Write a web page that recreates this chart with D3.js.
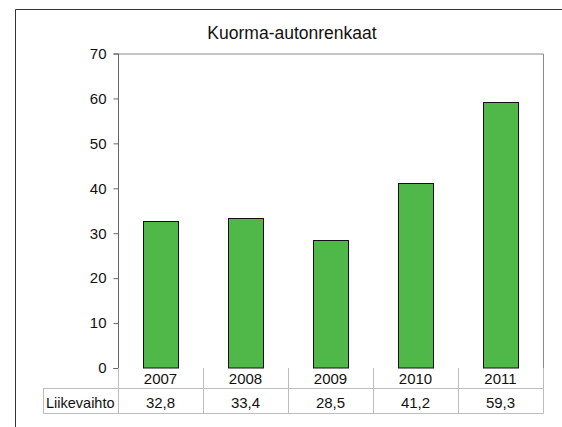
<!DOCTYPE html>
<html>
<head>
<meta charset="utf-8">
<style>
  body { margin: 0; background: #fff; }
  svg text { font-family: "Liberation Sans", Arial, sans-serif; fill: #111; }
</style>
</head>
<body>
<svg width="562" height="427"></svg>
<script src="https://d3js.org/d3.v7.min.js"></script>
<script>

  var title = "Kuorma-autonrenkaat",
      seriesName = "Liikevaihto",
      years = ["2007", "2008", "2009", "2010", "2011"],
      values = [32.8, 33.4, 28.5, 41.2, 59.3],
      yTicks = [0, 10, 20, 30, 40, 50, 60, 70];

  var svg = d3.select("svg");

  var plotL = 118, plotR = 543, plotT = 53.5, plotB = 368;

  var x = d3.scaleBand().domain(years).range([plotL, plotR]).padding(0),
      y = d3.scaleLinear().domain([0, 70]).range([plotB, plotT]);

  var fmt = function(v) { return d3.format(".1f")(v).replace(".", ","); };

  // outer chart frame (runs off the right and bottom of the picture)
  svg.append("path")
      .attr("d", "M15.5,440V9.5H570")
      .attr("fill", "none")
      .attr("stroke", "#333")
      .attr("stroke-width", 1);

  // title
  svg.append("text")
      .attr("x", 292)
      .attr("y", 39)
      .attr("text-anchor", "middle")
      .style("font-size", "17.5px")
      .text(title);

  // plot area border (top and right)
  svg.append("path")
      .attr("d", "M" + plotL + "," + (plotT + 0.5) + "H" + (plotR + 0.5) + "V" + plotB)
      .attr("fill", "none")
      .attr("stroke", "#8a8a8a");

  // bars
  var bw = x.bandwidth() * 0.41;
  svg.append("g").selectAll("rect")
      .data(values)
      .enter().append("rect")
      .attr("x", function(d, i) { return Math.round(x(years[i]) + (x.bandwidth() - bw) / 2) + 0.5; })
      .attr("y", function(d) { return Math.round(y(d)) + 0.5; })
      .attr("width", Math.round(bw))
      .attr("height", function(d) { return plotB - Math.round(y(d)) - 0.5; })
      .attr("fill", "#50b848")
      .attr("stroke", "#111")
      .attr("stroke-width", 1);

  // y axis
  var yAxis = svg.append("g")
      .attr("transform", "translate(" + (plotL + 0.5) + ",0)")
      .call(d3.axisLeft(y).tickValues(yTicks).tickSize(5).tickPadding(7));
  yAxis.selectAll("line").attr("stroke", "#666");
  yAxis.select(".domain").attr("stroke", "#666").attr("d", "M-5," + (plotT + 0.5) + "H0V" + (plotB + 0.5) + "H-5");
  yAxis.selectAll("text").style("font-size", "15px").attr("fill", "#111")
      .style("font-family", "Liberation Sans, Arial, sans-serif");

  // data table
  var tbl = svg.append("g").attr("stroke", "#bdbdbd").attr("fill", "none");
  var labelLeft = 43,
      row1 = plotB + 20, row2 = plotB + 45;
  tbl.append("line").attr("x1", labelLeft).attr("x2", plotR + 0.5).attr("y1", row1 + 0.5).attr("y2", row1 + 0.5);
  tbl.append("line").attr("x1", labelLeft).attr("x2", plotR + 0.5).attr("y1", row2 + 0.5).attr("y2", row2 + 0.5);
  tbl.append("line").attr("x1", labelLeft + 0.5).attr("x2", labelLeft + 0.5).attr("y1", row1).attr("y2", row2 + 0.5);
  tbl.selectAll(".v")
      .data(years.concat(["end"]))
      .enter().append("line")
      .attr("x1", function(d, i) { return Math.round(i < years.length ? x(d) : plotR) + 0.5; })
      .attr("x2", function(d, i) { return Math.round(i < years.length ? x(d) : plotR) + 0.5; })
      .attr("y1", plotB)
      .attr("y2", row2 + 0.5);

  svg.append("g").selectAll("text")
      .data(years)
      .enter().append("text")
      .attr("x", function(d) { return x(d) + x.bandwidth() / 2; })
      .attr("y", plotB + 16)
      .attr("text-anchor", "middle")
      .style("font-size", "15px")
      .text(function(d) { return d; });

  svg.append("g").selectAll("text")
      .data(values)
      .enter().append("text")
      .attr("x", function(d, i) { return x(years[i]) + x.bandwidth() / 2; })
      .attr("y", plotB + 40)
      .attr("text-anchor", "middle")
      .style("font-size", "15px")
      .text(function(d) { return fmt(d); });

  svg.append("text")
      .attr("x", 46)
      .attr("y", plotB + 40)
      .style("font-size", "14.5px")
      .text(seriesName);

</script>
</body>
</html>
